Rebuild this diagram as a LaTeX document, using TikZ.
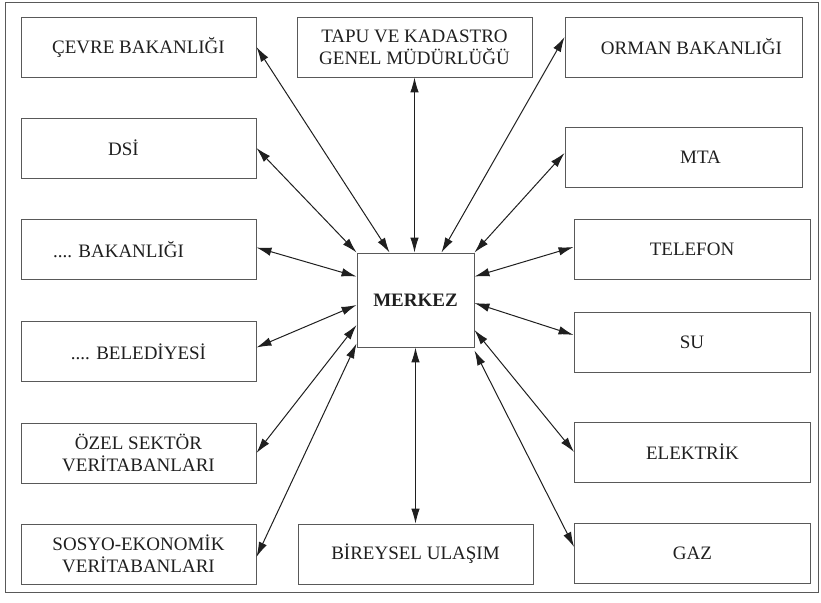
\documentclass[tikz,border=0pt]{standalone}
\usepackage{fontspec}
\setmainfont{Liberation Serif}
\usetikzlibrary{arrows.meta}
\definecolor{ink}{gray}{0.12}
\definecolor{edge}{gray}{0.35}
\begin{document}
\begin{tikzpicture}[x=1pt,y=-1pt,
  box/.style={draw=edge, line width=0.9pt, minimum width=235pt, minimum height=60pt,
    inner sep=0pt, align=center, text=ink, font=\fontsize{19}{22}\selectfont},
  conn/.style={draw=ink, line width=1pt, {Latex[length=15pt,width=8.5pt]}-{Latex[length=15pt,width=8.5pt]}}]
\useasboundingbox (0,0) rectangle (821,602);
\draw[edge, line width=0.9pt] (5,2) rectangle (818,592);
% left column
\node[box] (cevre) at (138.5,47) {ÇEVRE BAKANLIĞI};
\node[box] (dsi) at (138.5,148) {\hspace*{-30pt}DSİ};
\node[box] (bak) at (138.5,249.5) {\hspace*{-40pt}.... BAKANLIĞI};
\node[box] (bel) at (138.5,351.5) {.... BELEDİYESİ};
\node[box] (ozel) at (138.5,453) {ÖZEL SEKTÖR\\VERİTABANLARI};
\node[box] (sosyo) at (138.5,554) {SOSYO-EKONOMİK\\VERİTABANLARI};
% center column
\node[box] (tapu) at (414.5,47) {TAPU VE KADASTRO\\GENEL MÜDÜRLÜĞÜ};
\node[box] (bireysel) at (415.5,554) {BİREYSEL ULAŞIM};
\node[box, minimum width=117pt, minimum height=94pt, font=\fontsize{19}{22}\selectfont\bfseries] (merkez) at (415.5,300) {MERKEZ};
% right column
\node[box, minimum width=237pt] (orman) at (683.5,47) {\hspace*{16pt}ORMAN BAKANLIĞI};
\node[box, minimum width=237pt] (mta) at (683.5,157) {\hspace*{34pt}MTA};
\node[box, minimum width=236pt] (telefon) at (692,249) {TELEFON};
\node[box, minimum width=236pt] (su) at (692,342) {SU};
\node[box, minimum width=236pt] (elektrik) at (692.5,452) {ELEKTRİK};
\node[box, minimum width=236pt] (gaz) at (692.5,553) {GAZ};
% connectors
\draw[conn] (cevre.east) -- ([xshift=33pt]merkez.north west);
\draw[conn] (tapu.south) -- (tapu.south |- merkez.north);
\draw[conn] ([yshift=10pt]orman.west) -- ([xshift=-33pt]merkez.north east);
\draw[conn] (dsi.east) -- (merkez.north west);
\draw[conn] ([yshift=2pt]bak.east) -- ([yshift=-24pt]merkez.north west);
\draw[conn] ([yshift=4pt]mta.west) -- (merkez.north east);
\draw[conn] ([yshift=2pt]telefon.west) -- ([yshift=-24pt]merkez.north east);
\draw[conn] ([yshift=4pt]bel.east) -- ([yshift=-5pt]merkez.west);
\draw[conn] (ozel.east) -- ([yshift=-25pt]merkez.west);
\draw[conn] ([yshift=-3pt]sosyo.east) -- ([yshift=4pt]merkez.south west);
\draw[conn] ([yshift=-3pt]merkez.east) -- ([yshift=7pt]su.west);
\draw[conn] ([yshift=-30pt]merkez.east) -- (elektrik.west);
\draw[conn] ([yshift=-3pt]merkez.south east) -- ([yshift=6pt]gaz.west);
\draw[conn] (merkez.south -| bireysel.north) -- (bireysel.north);
\end{tikzpicture}
\end{document}
